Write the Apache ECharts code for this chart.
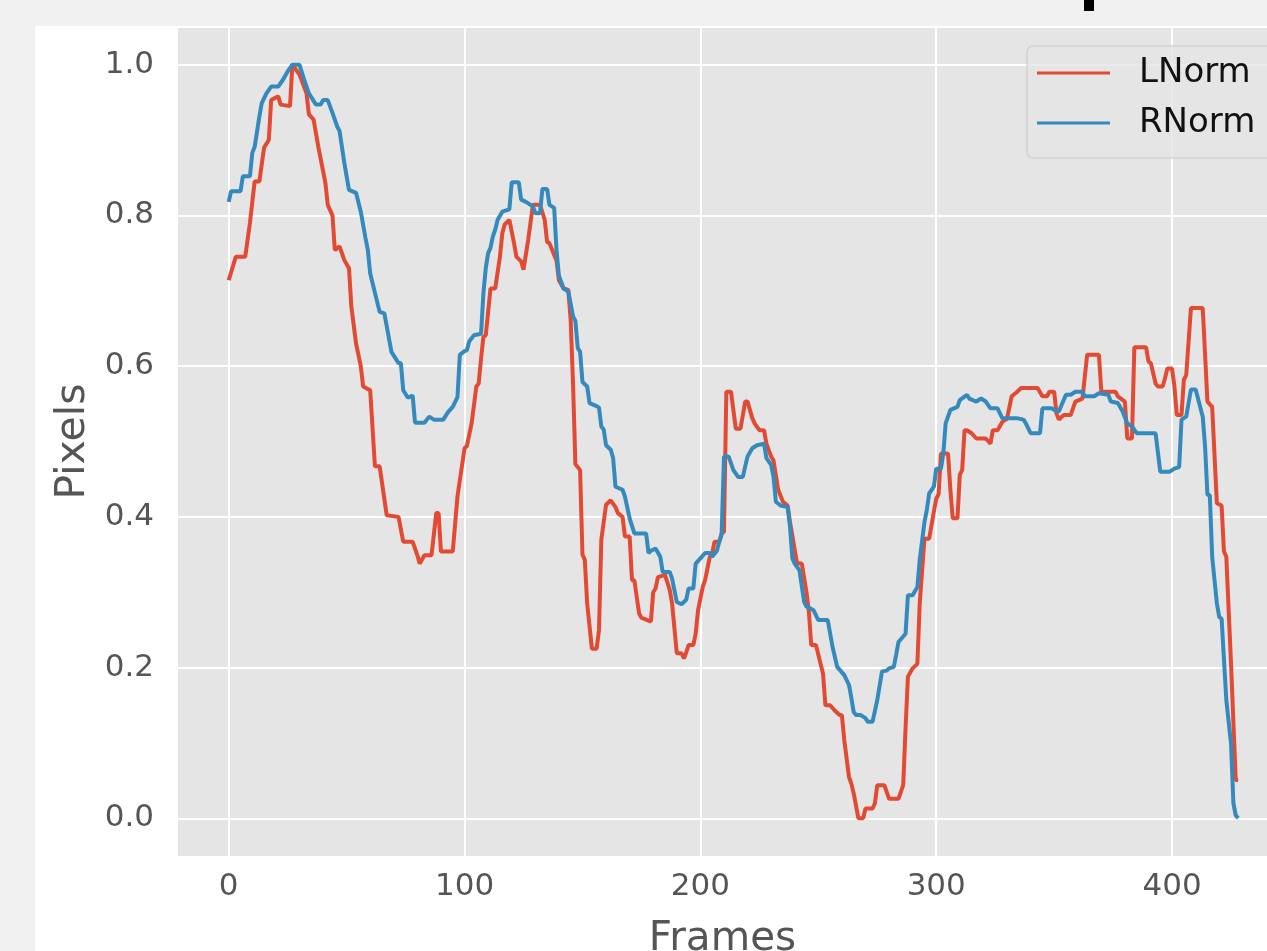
<!DOCTYPE html>
<html>
<head>
<meta charset="utf-8">
<title>LNorm / RNorm</title>
<script src="https://cdn.jsdelivr.net/npm/echarts@6/dist/echarts.min.js"></script>
<style>
  html, body { margin: 0; padding: 0; background: #f1f1f1; }
  #fig { position: absolute; left: 35px; top: 26px; width: 1232px; height: 925px; background: #ffffff; }
  #chart { position: absolute; left: 0; top: 0; width: 1267px; height: 951px; }
  #mark { position: absolute; left: 1084px; top: 0; width: 10px; height: 11px; background: #000; }
</style>
</head>
<body>
<div id="fig"></div>
<div id="chart"></div>
<div id="mark"></div>
<script>
// LNorm: frame index and normalised value at each step
const lFrames = [0, 3, 7, 9, 11, 13, 15, 17, 18, 21, 22, 26, 27, 30, 33, 34, 36, 38, 41, 42, 44, 45, 47, 49, 51, 52, 54, 56, 57, 60,
  62, 64, 67, 72, 74, 78, 80, 81, 83, 86, 88, 89, 90, 95, 97, 100, 101, 103, 105, 106, 107, 108, 109, 111, 113, 115, 116, 117, 119, 121,
  122, 124, 125, 127, 129, 132, 134, 135, 136, 139, 140, 142, 144, 145, 146, 147, 149, 150, 151, 152, 154, 156, 157, 158, 160, 162, 164, 165, 167, 168,
  170, 171, 172, 174, 175, 176, 179, 180, 181, 182, 185, 187, 188, 190, 192, 193, 194, 195, 197, 198, 199, 201, 202, 204, 205, 206, 208, 209, 210, 211,
  213, 215, 217, 219, 220, 222, 223, 225, 227, 228, 230, 231, 232, 233, 235, 237, 238, 241, 243, 245, 246, 247, 249, 252, 253, 255, 257, 259, 260, 261,
  263, 264, 265, 267, 269, 270, 273, 274, 275, 278, 280, 284, 286, 287, 288, 290, 292, 293, 295, 297, 299, 300, 301, 302, 305, 306, 307, 309, 310, 311,
  312, 313, 315, 317, 321, 323, 324, 326, 328, 330, 332, 334, 336, 343, 345, 347, 348, 350, 351, 352, 354, 357, 359, 362, 364, 369, 370, 376, 377, 380,
  381, 383, 384, 389, 390, 391, 393, 394, 396, 397, 398, 400, 401, 402, 404, 405, 406, 408, 413, 415, 417, 419, 421, 422, 423, 425, 427, 428];
const lValues = [0.714, 0.745, 0.745, 0.79, 0.845, 0.845, 0.89, 0.90, 0.953, 0.958, 0.947, 0.945, 1.0, 0.987, 0.962, 0.934, 0.927, 0.891, 0.843, 0.814, 0.80, 0.754, 0.759, 0.741, 0.73, 0.679, 0.63, 0.60, 0.573, 0.568,
  0.467, 0.467, 0.402, 0.40, 0.367, 0.367, 0.349, 0.338, 0.349, 0.349, 0.405, 0.405, 0.354, 0.354, 0.427, 0.491, 0.494, 0.524, 0.573, 0.577, 0.61, 0.639, 0.641, 0.703, 0.703, 0.745, 0.776, 0.788, 0.794, 0.763,
  0.745, 0.739, 0.728, 0.768, 0.814, 0.814, 0.794, 0.765, 0.763, 0.74, 0.714, 0.703, 0.701, 0.661, 0.577, 0.47, 0.462, 0.35, 0.343, 0.285, 0.225, 0.225, 0.25, 0.37, 0.416, 0.422, 0.413, 0.405, 0.40, 0.374,
  0.374, 0.316, 0.316, 0.272, 0.266, 0.265, 0.261, 0.30, 0.305, 0.32, 0.323, 0.303, 0.285, 0.219, 0.219, 0.212, 0.22, 0.23, 0.23, 0.245, 0.276, 0.307, 0.316, 0.347, 0.352, 0.367, 0.367, 0.378, 0.38, 0.566,
  0.566, 0.517, 0.517, 0.553, 0.553, 0.531, 0.524, 0.515, 0.515, 0.497, 0.48, 0.475, 0.455, 0.436, 0.42, 0.415, 0.393, 0.338, 0.338, 0.30, 0.274, 0.23, 0.23, 0.192, 0.15, 0.15, 0.143, 0.137, 0.137, 0.104,
  0.055, 0.046, 0.033, 0.0, 0.0, 0.013, 0.013, 0.02, 0.044, 0.044, 0.026, 0.026, 0.044, 0.12, 0.188, 0.199, 0.205, 0.285, 0.371, 0.371, 0.407, 0.424, 0.43, 0.484, 0.484, 0.436, 0.398, 0.398, 0.456, 0.462,
  0.515, 0.515, 0.511, 0.504, 0.504, 0.497, 0.515, 0.515, 0.526, 0.53, 0.56, 0.565, 0.571, 0.571, 0.56, 0.56, 0.566, 0.566, 0.537, 0.529, 0.535, 0.535, 0.553, 0.557, 0.615, 0.615, 0.566, 0.566, 0.56, 0.553,
  0.504, 0.504, 0.625, 0.625, 0.606, 0.604, 0.577, 0.573, 0.573, 0.584, 0.597, 0.597, 0.573, 0.535, 0.535, 0.582, 0.588, 0.677, 0.677, 0.553, 0.546, 0.418, 0.415, 0.354, 0.347, 0.205, 0.051, 0.051];

// RNorm
const rFrames = [0, 1, 5, 6, 9, 10, 11, 13, 14, 16, 18, 21, 23, 25, 27, 30, 32, 34, 37, 39, 40, 42, 44, 46, 47, 49, 51, 54, 56, 58,
  59, 60, 64, 66, 69, 72, 73, 74, 76, 78, 79, 83, 85, 87, 91, 93, 95, 97, 98, 100, 101, 102, 104, 107, 108, 109, 110, 111, 112, 113,
  114, 116, 119, 120, 123, 124, 126, 129, 130, 132, 133, 135, 136, 138, 139, 140, 142, 144, 146, 147, 148, 149, 150, 152, 153, 156, 157, 158, 159, 160,
  162, 163, 164, 167, 168, 170, 172, 177, 178, 179, 181, 183, 184, 187, 188, 190, 192, 194, 195, 197, 198, 200, 202, 204, 205, 207, 208, 209, 210, 212,
  214, 216, 218, 219, 220, 222, 224, 227, 228, 230, 231, 232, 234, 237, 238, 239, 240, 242, 244, 245, 248, 250, 254, 256, 258, 261, 263, 264, 265, 266,
  268, 270, 271, 273, 275, 277, 279, 280, 282, 283, 284, 287, 288, 290, 292, 293, 295, 296, 297, 299, 300, 302, 303, 304, 306, 309, 310, 313, 314, 317,
  319, 321, 323, 326, 328, 334, 337, 338, 340, 344, 345, 349, 351, 352, 355, 357, 359, 362, 363, 367, 369, 373, 374, 377, 379, 381, 383, 385, 393, 395,
  399, 401, 403, 404, 406, 408, 410, 413, 414, 415, 416, 417, 418, 419, 420, 421, 423, 425, 426, 427, 428];
const rValues = [0.818, 0.832, 0.832, 0.852, 0.852, 0.883, 0.891, 0.931, 0.949, 0.962, 0.971, 0.971, 0.98, 0.991, 1.0, 1.0, 0.98, 0.962, 0.947, 0.947, 0.953, 0.953, 0.936, 0.918, 0.912, 0.87, 0.834, 0.83, 0.805, 0.77,
  0.754, 0.723, 0.672, 0.67, 0.619, 0.604, 0.604, 0.568, 0.558, 0.561, 0.525, 0.525, 0.533, 0.529, 0.529, 0.539, 0.546, 0.559, 0.615, 0.62, 0.621, 0.633, 0.641, 0.643, 0.697, 0.73, 0.75, 0.757, 0.772, 0.781,
  0.794, 0.805, 0.808, 0.844, 0.844, 0.821, 0.818, 0.812, 0.803, 0.803, 0.835, 0.835, 0.814, 0.81, 0.754, 0.72, 0.703, 0.699, 0.666, 0.66, 0.624, 0.619, 0.579, 0.573, 0.551, 0.547, 0.545, 0.52, 0.516, 0.495,
  0.489, 0.478, 0.44, 0.436, 0.427, 0.398, 0.378, 0.378, 0.352, 0.355, 0.358, 0.347, 0.327, 0.327, 0.318, 0.287, 0.284, 0.29, 0.305, 0.305, 0.338, 0.345, 0.352, 0.352, 0.347, 0.355, 0.367, 0.376, 0.48, 0.48,
  0.462, 0.453, 0.453, 0.467, 0.48, 0.491, 0.495, 0.497, 0.478, 0.469, 0.453, 0.42, 0.415, 0.413, 0.387, 0.345, 0.338, 0.329, 0.287, 0.281, 0.276, 0.263, 0.263, 0.228, 0.201, 0.19, 0.177, 0.16, 0.141, 0.137,
  0.137, 0.133, 0.128, 0.128, 0.157, 0.195, 0.196, 0.199, 0.201, 0.217, 0.234, 0.245, 0.296, 0.296, 0.307, 0.343, 0.393, 0.409, 0.431, 0.44, 0.464, 0.464, 0.484, 0.524, 0.542, 0.546, 0.555, 0.562, 0.557, 0.553,
  0.557, 0.553, 0.544, 0.544, 0.531, 0.531, 0.529, 0.524, 0.511, 0.511, 0.544, 0.544, 0.54, 0.54, 0.562, 0.562, 0.566, 0.566, 0.56, 0.56, 0.564, 0.562, 0.553, 0.551, 0.54, 0.524, 0.52, 0.511, 0.511, 0.46,
  0.46, 0.464, 0.466, 0.529, 0.533, 0.569, 0.569, 0.533, 0.493, 0.429, 0.429, 0.347, 0.316, 0.285, 0.267, 0.265, 0.157, 0.099, 0.02, 0.004, 0.0];

const FONT = "'DejaVu Sans', 'Liberation Sans', sans-serif";
const TICK_COLOR = "#555555";

function pairs(xs, ys) {
  return xs.map((x, i) => [x, ys[i]]);
}

const chart = echarts.init(document.getElementById("chart"), null, { renderer: "canvas" });

chart.setOption({
  animation: false,
  backgroundColor: "transparent",
  textStyle: { fontFamily: FONT },
  grid: {
    left: 178, right: 0, top: 27, bottom: 95,
    outerBoundsMode: "none",
    containLabel: false,
    show: true, backgroundColor: "#e5e5e5", borderWidth: 0,
  },
  legend: {
    orient: "vertical",
    left: 1027, top: 46,
    padding: [8, 20, 16, 10],
    itemGap: 12,
    itemWidth: 73, itemHeight: 3,
    icon: "rect",
    backgroundColor: "rgba(229,229,229,0.8)",
    borderColor: "rgba(204,204,204,0.8)",
    borderWidth: 1.5,
    borderRadius: 6,
    textStyle: { fontFamily: FONT, fontSize: 34, color: "#111", padding: [0, 0, 0, 24], lineHeight: 38 },
    data: ["LNorm", "RNorm"],
  },
  xAxis: {
    type: "value",
    min: -21.5, max: 440.25,
    splitNumber: 5,
    name: "Frames",
    nameLocation: "middle",
    nameGap: 63,
    nameTextStyle: { fontFamily: FONT, fontSize: 40.5, color: TICK_COLOR },
    axisLine: { show: false },
    axisTick: { show: false },
    axisLabel: {
      fontFamily: FONT, fontSize: 31, color: TICK_COLOR, margin: 15,
      formatter: (v) => (Math.abs(v % 100) < 1e-9 ? String(v) : ""),
    },
    splitLine: { show: true, showMinLine: false, showMaxLine: false, lineStyle: { color: "#ffffff", width: 2 } },
  },
  yAxis: {
    type: "value",
    min: -0.05, max: 1.05,
    splitNumber: 5,
    name: "Pixels",
    nameLocation: "middle",
    nameGap: 83,
    nameTextStyle: { fontFamily: FONT, fontSize: 41, color: TICK_COLOR },
    axisLine: { show: false },
    axisTick: { show: false },
    axisLabel: {
      fontFamily: FONT, fontSize: 31, color: TICK_COLOR, margin: 24,
      formatter: (v) => (Math.abs(v * 5 - Math.round(v * 5)) < 1e-6 ? v.toFixed(1) : ""),
    },
    splitLine: { show: true, showMinLine: false, lineStyle: { color: "#ffffff", width: 2 } },
  },
  series: [
    {
      name: "LNorm",
      type: "line",
      data: pairs(lFrames, lValues),
      showSymbol: false,
      color: "#E24A33",
      lineStyle: { width: 4 },
    },
    {
      name: "RNorm",
      type: "line",
      data: pairs(rFrames, rValues),
      showSymbol: false,
      color: "#348ABD",
      lineStyle: { width: 4 },
    },
  ],
});
</script>
</body>
</html>
